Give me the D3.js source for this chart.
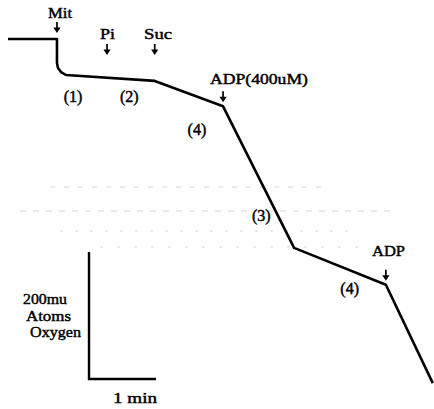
<!DOCTYPE html>
<html><head><meta charset="utf-8">
<script src="https://cdn.jsdelivr.net/npm/d3@7"></script>
<style>html,body{margin:0;padding:0;background:#fff;}svg{display:block;}</style>
</head><body><div id="chart"></div>
<script>
// Oxygen electrode trace: time (min) vs oxygen consumed (mu atoms O)
const traceTime   = [0, 0.731, 0.731, 0.746, 0.791, 0.866, 2.19, 3.21, 4.27, 5.64, 6.34];
const traceOxygen = [0, 0, 37.8, 45.7, 52, 56.7, 66, 106, 329, 387, 542];
// Additions (arrows)
const addLabels = ["Mit", "Pi", "Suc", "ADP(400uM)", "ADP"];
const addTimes  = [0.731, 1.478, 2.19, 3.21, 5.64];
const addOxygen = [0, 9, 66, 106, 387];
// State labels
const stateLabels = ["(1)", "(2)", "(4)", "(3)", "(4)"];
const stateTimes  = [0.97, 1.81, 2.82, 3.78, 5.10];
const stateOxygen = [98, 98, 150, 285, 400];
// Scale bar
const scaleBarMinutes = 1;
const scaleBarOxygen = 200;
const scaleBarLabel = ["200mu", "Atoms", "Oxygen"];
const timeLabel = "1 min";

const W = 434, H = 409;
const svg = d3.select("#chart").append("svg").attr("width", W).attr("height", H);
const x = d3.scaleLinear().domain([0, 1]).range([8, 75]);
const y = d3.scaleLinear().domain([0, 200]).range([39, 166]);
const font = "'Liberation Serif', 'DejaVu Serif', serif";

function txt(sel) {
  return sel.attr("font-family", font).attr("font-size", 15.5)
    .attr("stroke", "#000").attr("stroke-width", 0.45).attr("fill", "#000");
}

// faint scan artifacts
const g0 = svg.append("g").attr("stroke", "#d6d6d6").attr("stroke-width", 1.2);
[[187, 50, 330, "5 9"], [211, 20, 395, "6 7"], [231, 60, 350, "3 12"], [247, 100, 360, "3 14"]].forEach(r => {
  g0.append("line").attr("x1", r[1]).attr("x2", r[2]).attr("y1", r[0]).attr("y2", r[0]).attr("stroke-dasharray", r[3]);
});

// trace
const pts = traceTime.map((t, i) => [t, traceOxygen[i]]);
svg.append("path").datum(pts)
  .attr("d", d3.line().x(d => x(d[0])).y(d => y(d[1])))
  .attr("fill", "none").attr("stroke", "#000").attr("stroke-width", 2.6)
  .attr("stroke-linejoin", "round");

// arrows
function arrow(cx, yTop, yBot) {
  svg.append("line").attr("x1", cx).attr("x2", cx).attr("y1", yTop).attr("y2", yBot - 4)
    .attr("stroke", "#000").attr("stroke-width", 1.7);
  svg.append("path").attr("d", `M${cx - 3.6},${yBot - 5.5}L${cx + 3.6},${yBot - 5.5}L${cx},${yBot}Z`).attr("fill", "#000");
}
const labelPos = [[18, 48, 72], [39, 100, 115], [39, 144, 172], [84, 210, 308], [256, 372, 405]];
addLabels.forEach((lab, i) => {
  const cx = x(addTimes[i]);
  const cy = y(addOxygen[i]);
  const [base, lx0, lx1] = labelPos[i];
  const yBot = i === 0 ? cy - 6 : (i === 1 || i === 2 ? 55 : cy - 4);
  arrow(cx, yBot - 11, yBot);
  txt(svg.append("text")).attr("x", lx0).attr("y", base)
    .attr("textLength", lx1 - lx0).attr("lengthAdjust", "spacingAndGlyphs")
    .text(lab);
});

// state labels
stateLabels.forEach((lab, i) => {
  txt(svg.append("text")).attr("x", x(stateTimes[i])).attr("y", y(stateOxygen[i]) + 1)
    .attr("text-anchor", "middle").attr("font-size", 16).text(lab);
});

// scale bar
const sx0 = 89, sy0 = 379;
svg.append("path")
  .attr("d", `M${sx0},${sy0 - (y(scaleBarOxygen) - y(0))}L${sx0},${sy0}L${sx0 + (x(scaleBarMinutes) - x(0))},${sy0}`)
  .attr("fill", "none").attr("stroke", "#000").attr("stroke-width", 2.4);
const sl = [[23, 304, 44], [26, 321, 45], [30, 337, 51]];
scaleBarLabel.forEach((t, i) => {
  txt(svg.append("text")).attr("x", sl[i][0]).attr("y", sl[i][1])
    .attr("textLength", sl[i][2]).attr("lengthAdjust", "spacingAndGlyphs").text(t);
});
txt(svg.append("text")).attr("x", 113).attr("y", 403)
  .attr("textLength", 44).attr("lengthAdjust", "spacingAndGlyphs").text(timeLabel);
</script></body></html>
